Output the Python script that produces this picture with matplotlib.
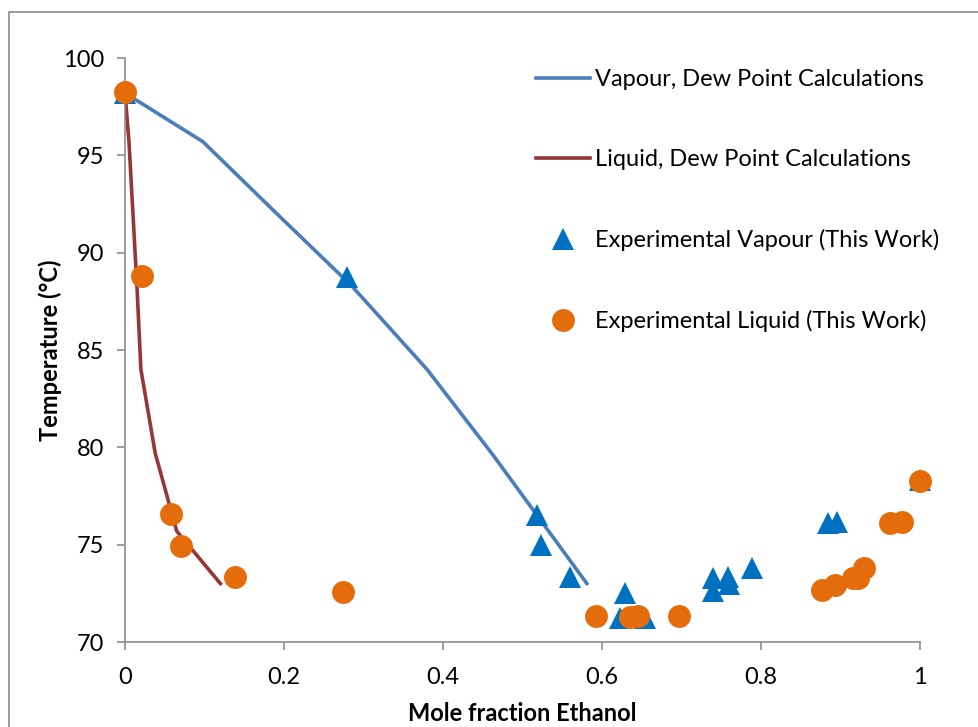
import matplotlib.pyplot as plt
from matplotlib.patches import Rectangle

plt.rcParams['font.family'] = ['Lato', 'DejaVu Sans']

# dew point calculations
vap_x = [0.0, 0.098, 0.191, 0.285, 0.38, 0.463, 0.581]
vap_T = [98.2, 95.7, 92.0, 88.3, 84.0, 79.6, 73.0]
liq_x = [0.0, 0.005, 0.01, 0.015, 0.02, 0.038, 0.065, 0.12]
liq_T = [98.2, 95.7, 92.0, 88.3, 84.0, 79.7, 75.7, 73.0]

# experimental points
exp_vap_x = [0.0, 0.279, 0.518, 0.523, 0.56, 0.629, 0.623, 0.654, 0.74, 0.74,
             0.758, 0.76, 0.789, 0.884, 0.896, 1.0]
exp_vap_T = [98.2, 88.75, 76.5, 75.0, 73.35, 72.5, 71.25, 71.25, 73.3, 72.6,
             73.35, 73.0, 73.8, 76.1, 76.15, 78.3]
exp_liq_x = [0.0, 0.021, 0.058, 0.07, 0.138, 0.274, 0.592, 0.635, 0.645, 0.697,
             0.877, 0.893, 0.916, 0.922, 0.93, 0.962, 0.977, 1.0]
exp_liq_T = [98.25, 88.8, 76.55, 74.95, 73.35, 72.55, 71.35, 71.3, 71.35, 71.35,
             72.65, 72.95, 73.3, 73.3, 73.8, 76.1, 76.15, 78.25]

fs = 17

fig = plt.figure(figsize=(9.79, 7.27), dpi=100)
ax = fig.add_axes([125 / 979, 1 - 642 / 727, 795 / 979, 584 / 727])

# chart-area border
fig.patches.append(Rectangle((9 / 979, -0.1), 1.2, 1 - 12 / 727 + 0.1,
                             transform=fig.transFigure, fill=False,
                             edgecolor='#8c8c8c', linewidth=1.2))

ax.plot(vap_x, vap_T, color='#4a7ebb', lw=2.6, label='Vapour, Dew Point Calculations', zorder=2)
ax.plot(liq_x, liq_T, color='#953735', lw=2.6, label='Liquid, Dew Point Calculations', zorder=2)
ax.plot(exp_vap_x, exp_vap_T, '^', color='#0070c0', ms=15.5, mew=0, clip_on=False,
        label='Experimental Vapour (This Work)', zorder=3)
ax.plot(exp_liq_x, exp_liq_T, 'o', color='#e46c0a', ms=16.5, mew=0, clip_on=False,
        label='Experimental Liquid (This Work)', zorder=4)

ax.set_xlim(0, 1)
ax.set_ylim(70, 100)
ax.set_xticks([0, 0.2, 0.4, 0.6, 0.8, 1])
ax.set_xticklabels(['0', '0.2', '0.4', '0.6', '0.8', '1'])
ax.set_yticks(range(70, 101, 5))

for s in ['top', 'right']:
    ax.spines[s].set_visible(False)
for s in ['left', 'bottom']:
    ax.spines[s].set_color('#8c8c8c')
    ax.spines[s].set_linewidth(1.2)
ax.tick_params(colors='#8c8c8c', labelcolor='black', labelsize=fs,
               length=6, width=1.2)
ax.tick_params(axis='x', pad=12)
ax.tick_params(axis='y', pad=9)

ax.set_xlabel('Mole fraction Ethanol', fontsize=fs, fontweight='bold', labelpad=10)
ax.set_ylabel('Temperature (°C)', fontsize=fs, fontweight='bold', labelpad=1)

leg = ax.legend(loc='upper left', bbox_to_anchor=(524 / 979, 1 - 57 / 727),
                bbox_transform=fig.transFigure, frameon=False, fontsize=fs,
                labelspacing=2.5, handlelength=2.3, handletextpad=0.2,
                borderpad=0)

fig.savefig('out.png', dpi=100)
